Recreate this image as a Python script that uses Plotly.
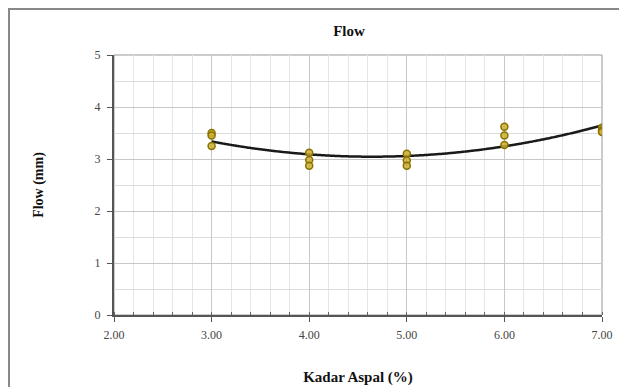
import numpy as np
import plotly.graph_objects as go

# data
kadar = [3, 3, 3, 4, 4, 4, 5, 5, 5, 6, 6, 6, 7, 7, 7]
flow = [3.50, 3.45, 3.25, 3.12, 2.98, 2.87, 3.10, 2.97, 2.87, 3.62, 3.45, 3.27, 3.60, 3.55, 3.52]
x_ticks = [2, 3, 4, 5, 6, 7]
x_labels = ["2.00", "3.00", "4.00", "5.00", "6.00", "7.00"]
y_ticks = [0, 1, 2, 3, 4, 5]

coef = np.polyfit(kadar, flow, 2)
xs = np.linspace(3, 7, 200)
ys = np.polyval(coef, xs)

serif = "Liberation Serif, Times New Roman, serif"

fig = go.Figure()
fig.add_trace(go.Scatter(x=xs, y=ys, mode="lines",
                         line=dict(color="#1a1a1a", width=2.5, shape="spline"), showlegend=False,
                         hoverinfo="skip"))
fig.add_trace(go.Scatter(x=kadar, y=flow, mode="markers",
                         marker=dict(size=7, color="rgba(205,175,50,0.85)",
                                     line=dict(color="#8a7200", width=1.5)),
                         showlegend=False))

W, H = 619, 387
ml, mr, mt, mb = 114, 17, 55, 72
pw, ph = W - ml - mr, H - mt - mb

fig.add_shape(type="rect", xref="paper", yref="paper",
              x0=(9 - ml) / pw, x1=(W + 20 - ml) / pw,
              y0=-(H + 20 - mt - ph) / ph, y1=1 + (mt - 9) / ph,
              line=dict(color="#888888", width=2), fillcolor="rgba(0,0,0,0)",
              layer="below")

fig.update_layout(
    width=W, height=H,
    margin=dict(l=ml, r=mr, t=mt, b=mb, autoexpand=False),
    paper_bgcolor="white", plot_bgcolor="white",
    title=dict(text="<b>Flow</b>", x=(349 - ml) / pw, xref="paper", xanchor="center",
               y=1 - 31 / H, yanchor="middle",
               font=dict(family=serif, size=15, color="#111")),
    xaxis=dict(range=[2, 7], tickvals=x_ticks, ticktext=x_labels, automargin=False,
               showgrid=True, gridcolor="#c8c8c8", gridwidth=1,
               minor=dict(dtick=0.2, showgrid=True, gridcolor="#e6e6e6", gridwidth=1,
                          ticks="inside", ticklen=3, tickcolor="#666"),
               showline=True, linecolor="#555", linewidth=2, mirror=False,
               ticks="outside", ticklen=5, tickcolor="#555",
               ticklabelstandoff=3,
               tickfont=dict(family=serif, size=12, color="#444"),
               title=dict(text="<b>Kadar Aspal (%)</b>", standoff=30,
                          font=dict(family=serif, size=15, color="#111")),
               zeroline=False),
    yaxis=dict(range=[0, 5], tickvals=y_ticks, automargin=False,
               showgrid=True, gridcolor="#c8c8c8", gridwidth=1,
               minor=dict(dtick=0.5, showgrid=True, gridcolor="#dcdcdc", gridwidth=1),
               showline=True, linecolor="#555", linewidth=2,
               ticks="outside", ticklen=5, tickcolor="#555",
               ticklabelstandoff=4,
               tickfont=dict(family=serif, size=12, color="#444"),
               title=dict(text="<b>Flow (mm)</b>", standoff=48,
                          font=dict(family=serif, size=14, color="#111")),
               zeroline=False),
)
fig.add_shape(type="rect", xref="paper", yref="paper", x0=0, x1=1, y0=0, y1=1,
              line=dict(color="#999", width=1), fillcolor="rgba(0,0,0,0)", layer="below")

fig.write_html("out.html")
